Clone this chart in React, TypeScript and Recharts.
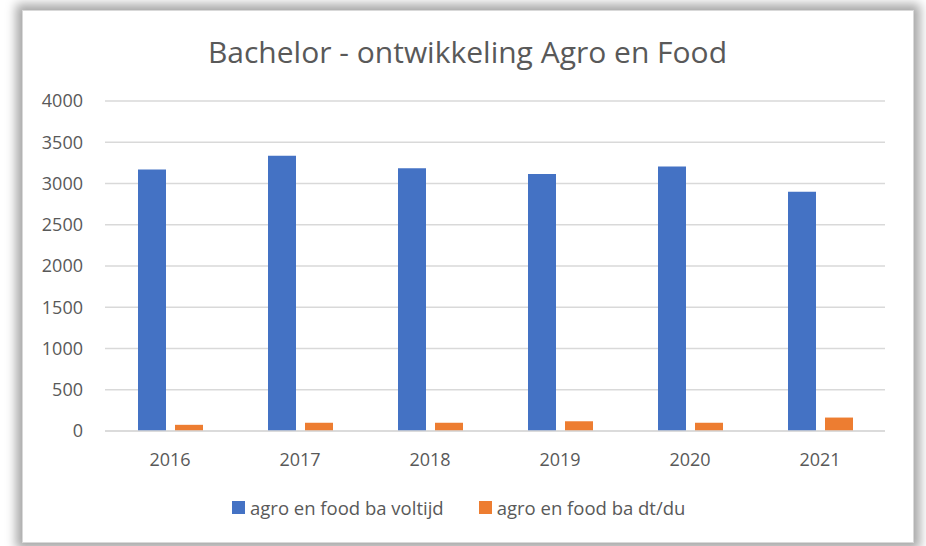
import { BarChart, Bar, XAxis, YAxis, CartesianGrid, Legend } from "recharts";

const years = ["2016", "2017", "2018", "2019", "2020", "2021"];
const voltijd = [3170, 3335, 3185, 3115, 3205, 2900];
const deeltijd = [75, 100, 100, 118, 100, 163];
const yTicks = [0, 500, 1000, 1500, 2000, 2500, 3000, 3500, 4000];

const seriesNames = ["agro en food ba voltijd", "agro en food ba dt/du"];
const colors = ["#4472C4", "#ED7D31"];

const chartData = years.map((year, i) => ({
  year,
  voltijd: voltijd[i],
  deeltijd: deeltijd[i],
}));

const font = "'Open Sans', sans-serif";
const textColor = "#595959";

function LegendContent() {
  return (
    <div style={{ display: "flex", alignItems: "center", fontFamily: font, fontSize: 18.5, color: textColor, whiteSpace: "nowrap" }}>
      {seriesNames.map((name, i) => (
        <div key={name} style={{ display: "flex", alignItems: "center", marginRight: i === 0 ? 35 : 0 }}>
          <span style={{ width: 13, height: 13, background: colors[i], display: "inline-block", marginRight: 5 }} />
          <span>{name}</span>
        </div>
      ))}
    </div>
  );
}

export default function App() {
  return (
    <div style={{ position: "absolute", left: 0, top: 0, width: 926, height: 546, background: "#fff", overflow: "hidden" }}>
      {/* card with shadow */}
      <div
        style={{
          position: "absolute",
          left: 22,
          top: 10,
          width: 890,
          height: 531,
          background: "#fff",
          border: "1px solid #d9d9d9",
          boxShadow: "0 0 10px 6px rgba(0,0,0,0.35)",
        }}
      />
      <div
        style={{
          position: "absolute",
          left: 0,
          width: 935,
          top: 31,
          textAlign: "center",
          fontFamily: font,
          fontSize: 30,
          color: textColor,
          whiteSpace: "nowrap",
        }}
      >
        Bachelor - ontwikkeling Agro en Food
      </div>
      <div style={{ position: "absolute", left: 0, top: 0 }}>
        {/* the legend still takes ~30px off the bottom, so bottom margin is 85 not 115 */}
        <BarChart
          width={926}
          height={546}
          data={chartData}
          margin={{ top: 101, right: 41, bottom: 85, left: 0 }}
          barSize={28}
          barGap={9}
        >
          <CartesianGrid vertical={false} stroke="#d9d9d9" strokeWidth={1.5} />
          <XAxis
            dataKey="year"
            axisLine={{ stroke: "#d9d9d9", strokeWidth: 1.5 }}
            tickLine={false}
            tickSize={0}
            tickMargin={22}
            tick={{ fill: textColor, fontSize: 18, fontFamily: font }}
          />
          <YAxis
            width={105}
            domain={[0, 4000]}
            ticks={yTicks}
            axisLine={false}
            tickLine={false}
            tickSize={0}
            tickMargin={22}
            tick={{ fill: textColor, fontSize: 18, fontFamily: font }}
          />
          <Legend
            verticalAlign="middle"
            align="center"
            content={<LegendContent />}
            wrapperStyle={{ left: 232, top: 495, width: "auto" }}
          />
          <Bar dataKey="voltijd" name={seriesNames[0]} fill={colors[0]} isAnimationActive={false} />
          <Bar dataKey="deeltijd" name={seriesNames[1]} fill={colors[1]} isAnimationActive={false} />
        </BarChart>
      </div>
    </div>
  );
}
